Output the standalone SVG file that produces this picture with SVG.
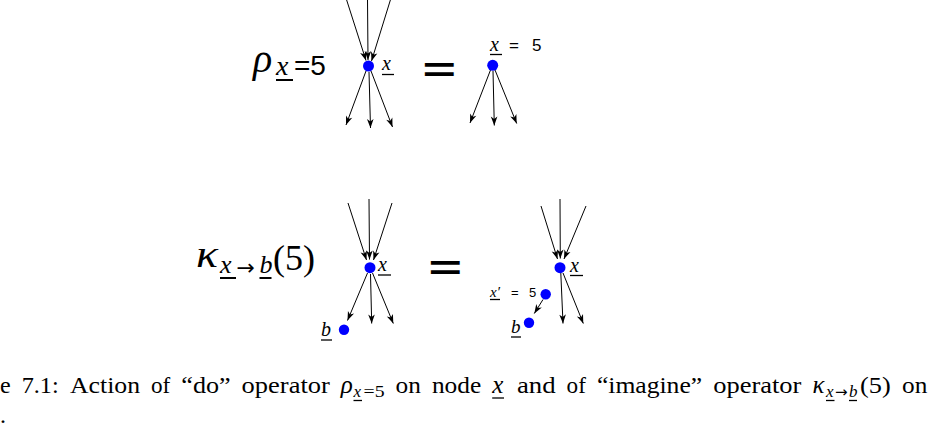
<svg xmlns="http://www.w3.org/2000/svg" width="930" height="429" viewBox="0 0 930 429">
<style>
.bg{fill:#fff}
.e{stroke:#000;stroke-width:1;fill:none}
.ul{stroke:#000;stroke-width:1.3}
.ulb{stroke:#000;stroke-width:2}
.dot{fill:#0000ff}
.mi{font-family:"Liberation Serif",serif;font-style:italic;fill:#000}
.rm{font-family:"Liberation Serif",serif;fill:#000}
.sf{font-family:"Liberation Sans",sans-serif;fill:#000}
.eq{font-family:"DejaVu Sans",sans-serif;fill:#000}
.cap{font-family:"Liberation Serif",serif;font-size:24px;fill:#000}
</style>
<defs>
<marker id="ah" markerUnits="userSpaceOnUse" markerWidth="12" markerHeight="10" viewBox="-10 -5 12 10" refX="0" refY="0" orient="auto">
<path d="M0,0 L-9,-3.3 L-6.5,0 L-9,3.3 Z" fill="#000"/>
</marker>
</defs>
<rect class="bg" x="0" y="0" width="930" height="429"/>

<g id="connectors">
<!-- row 1 left -->
<line class="e" x1="346" y1="-2" x2="366" y2="60.5" marker-end="url(#ah)"/>
<line class="e" x1="367.5" y1="-2" x2="368" y2="60" marker-end="url(#ah)"/>
<line class="e" x1="391" y1="-2" x2="371.5" y2="61" marker-end="url(#ah)"/>
<line class="e" x1="366" y1="71" x2="346" y2="125" marker-end="url(#ah)"/>
<line class="e" x1="369" y1="72" x2="370.5" y2="128" marker-end="url(#ah)"/>
<line class="e" x1="371" y1="71" x2="392.5" y2="127" marker-end="url(#ah)"/>
<!-- row 1 right -->
<line class="e" x1="490.5" y1="70" x2="470" y2="123" marker-end="url(#ah)"/>
<line class="e" x1="493" y1="71" x2="494.3" y2="125.5" marker-end="url(#ah)"/>
<line class="e" x1="495" y1="70" x2="516.7" y2="123.5" marker-end="url(#ah)"/>
<!-- row 2 left -->
<line class="e" x1="348" y1="203" x2="366.5" y2="260" marker-end="url(#ah)"/>
<line class="e" x1="369" y1="199" x2="369.5" y2="259.5" marker-end="url(#ah)"/>
<line class="e" x1="392" y1="203" x2="373.5" y2="260" marker-end="url(#ah)"/>
<line class="e" x1="367.5" y1="273" x2="347.5" y2="320.5" marker-end="url(#ah)"/>
<line class="e" x1="370.5" y1="274" x2="371.7" y2="323.5" marker-end="url(#ah)"/>
<line class="e" x1="372.5" y1="273" x2="393.3" y2="323.5" marker-end="url(#ah)"/>
<!-- row 2 right -->
<line class="e" x1="541" y1="206" x2="557.5" y2="259" marker-end="url(#ah)"/>
<line class="e" x1="560" y1="199" x2="560.3" y2="258.5" marker-end="url(#ah)"/>
<line class="e" x1="586" y1="206" x2="564" y2="259" marker-end="url(#ah)"/>
<line class="e" x1="560.8" y1="273" x2="563" y2="323.5" marker-end="url(#ah)"/>
<line class="e" x1="563" y1="273" x2="583.3" y2="323.5" marker-end="url(#ah)"/>
<line class="e" x1="543" y1="299.5" x2="534.3" y2="313.5" marker-end="url(#ah)"/>
</g>

<g id="rho-label">
<text class="mi" x="253" y="72" font-size="40">ρ</text>
<text class="mi" x="276" y="75" font-size="28">x</text>
<line class="ulb" x1="276" y1="80" x2="293" y2="80"/>
<text class="sf" x="294" y="75" font-size="28">=5</text>
</g>
<g id="eq1"><text class="eq" x="420" y="84" font-size="46">=</text></g>

<g id="node-x-do">
<circle class="dot" cx="368.5" cy="66" r="5.5"/>
<text class="mi" x="382" y="70" font-size="20">x</text>
<line class="ul" x1="382" y1="74.5" x2="394" y2="74.5"/>
</g>
<g id="node-x-set">
<circle class="dot" cx="492.7" cy="65.3" r="5.5"/>
<text class="mi" x="490" y="51" font-size="20">x</text>
<line class="ul" x1="490" y1="54.5" x2="502" y2="54.5"/>
<text class="sf" x="509" y="51" font-size="17">=</text>
<text class="sf" x="532" y="51" font-size="17">5</text>
</g>

<g id="kappa-label">
<text class="mi" x="196" y="267" font-size="38" textLength="22" lengthAdjust="spacingAndGlyphs">κ</text>
<text class="mi" x="220" y="273" font-size="26">x</text>
<line class="ulb" x1="220" y1="278" x2="236" y2="278"/>
<text class="eq" x="236.5" y="275" font-size="22">→</text>
<text class="mi" x="259.5" y="273" font-size="26">b</text>
<line class="ulb" x1="259.5" y1="278" x2="271.5" y2="278"/>
<text class="rm" x="273" y="270" font-size="36">(5)</text>
</g>
<g id="eq2"><text class="eq" x="426" y="282" font-size="46">=</text></g>

<g id="node-x-imag-left">
<circle class="dot" cx="370" cy="267.7" r="5.5"/>
<text class="mi" x="378" y="270.5" font-size="20">x</text>
<line class="ul" x1="378" y1="275" x2="391" y2="275"/>
</g>
<g id="node-b-left">
<circle class="dot" cx="344" cy="329.7" r="5.2"/>
<text class="mi" x="321" y="336" font-size="20">b</text>
<line class="ul" x1="321" y1="340" x2="332" y2="340"/>
</g>
<g id="node-x-imag-right">
<circle class="dot" cx="560" cy="267.7" r="5.5"/>
<text class="mi" x="570" y="271.5" font-size="20">x</text>
<line class="ul" x1="570" y1="275.5" x2="583" y2="275.5"/>
</g>
<g id="node-xprime">
<circle class="dot" cx="545.7" cy="294.3" r="5.2"/>
<text class="mi" x="490" y="297" font-size="15">x′</text>
<line class="ul" x1="490" y1="299.5" x2="500" y2="299.5"/>
<text class="sf" x="511" y="297" font-size="13">=</text>
<text class="sf" x="529" y="297" font-size="13">5</text>
</g>
<g id="node-b-right">
<circle class="dot" cx="529" cy="322.7" r="5.2"/>
<text class="mi" x="511" y="333" font-size="19">b</text>
<line class="ul" x1="511" y1="337" x2="521" y2="337"/>
</g>

<g id="caption">
<text class="cap" x="0" y="393">e</text>
<text class="cap" x="21.7" y="393" textLength="37" lengthAdjust="spacingAndGlyphs">7.1:</text>
<text class="cap" x="70" y="393" textLength="70" lengthAdjust="spacingAndGlyphs">Action</text>
<text class="cap" x="151" y="393" textLength="19.3" lengthAdjust="spacingAndGlyphs">of</text>
<text class="cap" x="181.3" y="393" textLength="49.3" lengthAdjust="spacingAndGlyphs">“do”</text>
<text class="cap" x="241.6" y="393" textLength="88.2" lengthAdjust="spacingAndGlyphs">operator</text>
<text class="mi" x="340.8" y="393" font-size="25">ρ</text>
<text class="mi" x="353.5" y="397" font-size="17">x</text>
<line class="ul" x1="353.5" y1="400.5" x2="362" y2="400.5"/>
<text class="rm" x="363.5" y="397" font-size="17" textLength="21" lengthAdjust="spacingAndGlyphs">=5</text>
<text class="cap" x="395.6" y="393" textLength="25.3" lengthAdjust="spacingAndGlyphs">on</text>
<text class="cap" x="431.9" y="393" textLength="49.3" lengthAdjust="spacingAndGlyphs">node</text>
<text class="mi" x="492.2" y="393" font-size="25">x</text>
<line class="ul" x1="492.2" y1="398" x2="504" y2="398"/>
<text class="cap" x="516.9" y="393" textLength="38.7" lengthAdjust="spacingAndGlyphs">and</text>
<text class="cap" x="566.6" y="393" textLength="19.3" lengthAdjust="spacingAndGlyphs">of</text>
<text class="cap" x="596.9" y="393" textLength="105.3" lengthAdjust="spacingAndGlyphs">“imagine”</text>
<text class="cap" x="713.2" y="393" textLength="88.2" lengthAdjust="spacingAndGlyphs">operator</text>
<text class="mi" x="812.4" y="393" font-size="25">κ</text>
<text class="mi" x="826" y="397" font-size="17">x</text>
<line class="ul" x1="826" y1="400.5" x2="834.5" y2="400.5"/>
<text class="eq" x="835" y="397" font-size="15">→</text>
<text class="mi" x="849" y="397" font-size="17">b</text>
<line class="ul" x1="849" y1="400.5" x2="857" y2="400.5"/>
<text class="cap" x="860" y="393" textLength="30.7" lengthAdjust="spacingAndGlyphs">(5)</text>
<text class="cap" x="902" y="393" textLength="25.3" lengthAdjust="spacingAndGlyphs">on</text>
<text class="cap" x="0" y="423">.</text>
</g>
</svg>
